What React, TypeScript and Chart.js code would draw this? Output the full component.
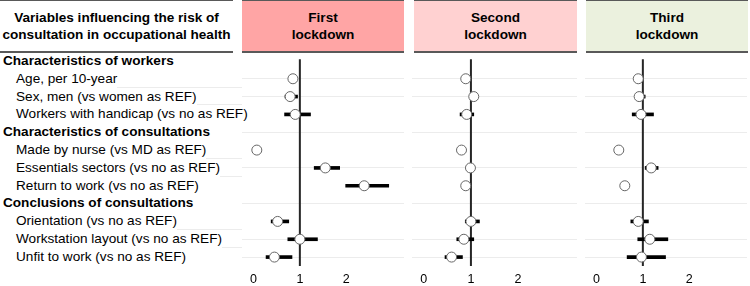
import React, { useEffect, useRef } from "react";
import { Chart, registerables } from "chart.js";

Chart.register(...registerables);

const FONT = "'Liberation Sans', Arial, Helvetica, sans-serif";

// ---- Data ----
const rowLabels = [
  "Characteristics of workers",
  "Age, per 10-year",
  "Sex, men (vs women as REF)",
  "Workers with handicap (vs no as REF)",
  "Characteristics of consultations",
  "Made by nurse (vs MD as REF)",
  "Essentials sectors (vs no as REF)",
  "Return to work (vs no as REF)",
  "Conclusions of consultations",
  "Orientation (vs no as REF)",
  "Workstation layout (vs no as REF)",
  "Unfit to work (vs no as REF)",
];
const groupRows = [0, 4, 8];
const itemRows = [1, 2, 3, 5, 6, 7, 9, 10, 11];
const separatorRows = [1.5, 2.5, 5.5, 6.5, 9.5, 10.5];
const tickValues = [0, 1, 2];
const refValue = 1;
const refLineRows = [-0.1, 11.5];

const headerLines = ["Variables influencing the risk of", "consultation in occupational health"];
const panelTitles = [
  ["First", "lockdown"],
  ["Second", "lockdown"],
  ["Third", "lockdown"],
];

const firstOR = [0.85, 0.79, 0.9, 0.07, 1.55, 2.39, 0.52, 1.0, 0.45];
const firstLow = [0.8, 0.68, 0.67, 0.05, 1.31, 1.99, 0.38, 0.74, 0.27];
const firstHigh = [0.9, 0.95, 1.23, 0.1, 1.86, 2.92, 0.76, 1.38, 0.83];

const secondOR = [0.89, 1.06, 0.91, 0.8, 0.99, 0.89, 1.0, 0.85, 0.59];
const secondLow = [0.85, 1.0, 0.77, 0.76, 0.95, 0.85, 0.88, 0.7, 0.45];
const secondHigh = [0.93, 1.12, 1.06, 0.84, 1.03, 0.93, 1.18, 1.06, 0.82];

const thirdOR = [0.9, 0.92, 0.96, 0.48, 1.18, 0.61, 0.9, 1.15, 0.97];
const thirdLow = [0.86, 0.85, 0.77, 0.44, 1.05, 0.57, 0.74, 0.89, 0.66];
const thirdHigh = [0.94, 1.05, 1.23, 0.52, 1.33, 0.65, 1.12, 1.54, 1.49];

const panelData = [
  { or: firstOR, low: firstLow, high: firstHigh },
  { or: secondOR, low: secondLow, high: secondHigh },
  { or: thirdOR, low: thirdLow, high: thirdHigh },
];

// ---- Layout ----
const panelHeaders = [
  { left: 242, width: 162, color: "#FFA5A5" },
  { left: 414, width: 163, color: "#FFD1D1" },
  { left: 586, width: 162, color: "#EBF1DE" },
];
const panelCharts = [
  { left: 242, width: 162 },
  { left: 412, width: 165 },
  { left: 585, width: 162 },
];
const CHART_TOP = 52;
const CHART_H = 241;
const ROW_H = 17.8;
const TEXT_SIZE = 13.6;

function makeConfig(or: number[], low: number[], high: number[]): any {
  return {
    type: "scatter",
    data: {
      datasets: [
        {
          type: "scatter",
          data: itemRows.map((r, i) => ({ x: or[i], y: r })),
          pointRadius: 5,
          pointHoverRadius: 5,
          pointBackgroundColor: "#ffffff",
          pointBorderColor: "#666666",
          pointBorderWidth: 1,
          order: 0,
        },
        {
          type: "bar",
          indexAxis: "y",
          data: itemRows.map((r, i) => ({ x: [low[i], high[i]], y: r })),
          backgroundColor: "#000000",
          borderWidth: 0,
          barThickness: 3,
          order: 1,
        },
        {
          type: "line",
          showLine: true,
          data: refLineRows.map((r) => ({ x: refValue, y: r })),
          borderColor: "#262626",
          borderWidth: 2,
          pointRadius: 0,
          order: 2,
        },
      ],
    },
    options: {
      animation: false,
      responsive: false,
      maintainAspectRatio: false,
      events: [],
      layout: { padding: 0, autoPadding: false },
      plugins: { legend: { display: false }, tooltip: { enabled: false } },
      scales: {
        x: {
          type: "linear",
          min: -0.25,
          max: 3.25,
          grid: { display: false, drawTicks: false },
          border: { display: false },
          afterBuildTicks: (s: any) => {
            s.ticks = tickValues.map((v) => ({ value: v }));
          },
          ticks: {
            font: { family: FONT, size: 12.5 },
            color: "#000000",
            padding: 6,
            callback: (v: any) => String(v),
          },
        },
        y: {
          type: "linear",
          min: -0.5,
          max: 11.5,
          reverse: true,
          offset: false,
          grid: { color: "#ececec", lineWidth: 1, drawTicks: false },
          border: { display: false },
          ticks: { display: false },
          afterBuildTicks: (s: any) => {
            s.ticks = separatorRows.map((v) => ({ value: v }));
          },
        },
      },
    },
  };
}

function Panel({ idx }: { idx: number }) {
  const ref = useRef<HTMLCanvasElement | null>(null);
  useEffect(() => {
    if (!ref.current) return;
    const d = panelData[idx];
    const chart = new Chart(ref.current, makeConfig(d.or, d.low, d.high));
    return () => chart.destroy();
  }, [idx]);
  const p = panelCharts[idx];
  return (
    <canvas
      ref={ref}
      width={p.width}
      height={CHART_H}
      style={{ position: "absolute", left: p.left, top: CHART_TOP, width: p.width, height: CHART_H }}
    />
  );
}

const headerBox = (left: number, width: number, bg: string): React.CSSProperties => ({
  position: "absolute",
  left,
  top: 0,
  width,
  height: 53,
  boxSizing: "border-box",
  borderTop: "1px solid #595959",
  borderBottom: "2px solid #595959",
  background: bg,
  display: "flex",
  flexDirection: "column",
  justifyContent: "center",
  alignItems: "center",
  fontFamily: FONT,
  fontWeight: "bold",
  fontSize: TEXT_SIZE,
  lineHeight: "17px",
  color: "#000",
  textAlign: "center",
  whiteSpace: "nowrap",
});

export default function App() {
  return (
    <div
      style={{
        position: "absolute",
        left: 0,
        top: 0,
        width: 750,
        height: 286,
        background: "#ffffff",
        overflow: "hidden",
      }}
    >
      <div style={headerBox(0, 233, "#ffffff")}>
        {headerLines.map((t) => (
          <div key={t}>{t}</div>
        ))}
      </div>
      {panelHeaders.map((h, i) => (
        <div key={i} style={headerBox(h.left, h.width, h.color)}>
          {panelTitles[i].map((t) => (
            <div key={t}>{t}</div>
          ))}
        </div>
      ))}
      <div style={{ position: "absolute", left: 0, top: CHART_TOP, width: 242 }}>
        {rowLabels.map((label, i) => {
          const isGroup = groupRows.includes(i);
          const hasSep = separatorRows.includes(i + 0.5);
          return (
            <div
              key={label}
              style={{
                display: "flex",
                height: ROW_H,
                lineHeight: ROW_H + "px",
                fontFamily: FONT,
                fontSize: TEXT_SIZE,
                fontWeight: isGroup ? "bold" : "normal",
                color: "#000",
                whiteSpace: "nowrap",
                paddingLeft: isGroup ? 3 : 16,
              }}
            >
              <span>{label}</span>
              <span
                style={{
                  flex: 1,
                  height: ROW_H,
                  boxSizing: "border-box",
                  borderBottom: hasSep ? "1px solid #ececec" : "none",
                }}
              />
            </div>
          );
        })}
      </div>
      {panelCharts.map((_, i) => (
        <Panel key={i} idx={i} />
      ))}
    </div>
  );
}
